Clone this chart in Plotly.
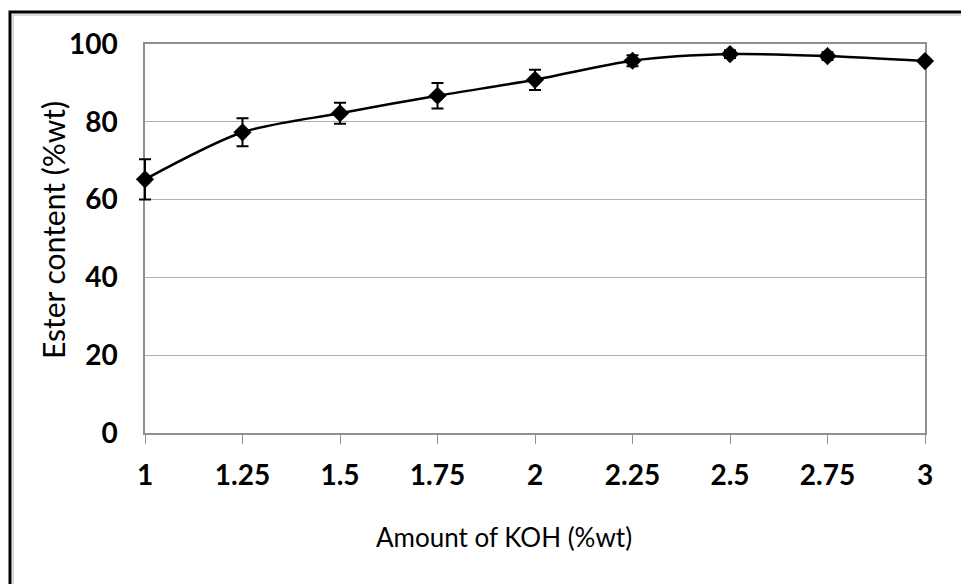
import plotly.graph_objects as go

# KOH loading (%wt) and resulting ester content (%wt) with standard deviations
koh_amount = [1, 1.25, 1.5, 1.75, 2, 2.25, 2.5, 2.75, 3]
ester_content = [65.2, 77.3, 82.2, 86.7, 90.8, 95.7, 97.4, 96.9, 95.6]
ester_sd = [5.2, 3.6, 2.7, 3.3, 2.6, 1.4, 1.0, 1.0, 0.3]

x_ticks = [1, 1.25, 1.5, 1.75, 2, 2.25, 2.5, 2.75, 3]
x_tick_text = ["1", "1.25", "1.5", "1.75", "2", "2.25", "2.5", "2.75", "3"]
y_ticks = [0, 20, 40, 60, 80, 100]
x_range = [1, 3]
y_range = [0, 100]

x_title = "Amount of KOH (%wt)"
y_title = "Ester content (%wt)"

W, H = 961, 584
# plot area in pixels: x from 145 to 925, y from 44 to 433
AX_L, AX_R, AX_T, AX_B = 145, 925, 44, 433
PAD = 14  # extra room on the data layer so end error-bar caps are not clipped

L, R = AX_L - PAD, W - AX_R - PAD
T, B = AX_T, H - AX_B
pw, ph = W - L - R, H - T - B
units_per_px = (x_range[1] - x_range[0]) / (AX_R - AX_L)


def px_to_paper(px, py):
    return (px - L) / pw, (H - B - py) / ph


fig = go.Figure()

# data layer on a slightly wider, invisible subplot so marks near the edges stay whole
fig.add_trace(go.Scatter(
    x=koh_amount,
    y=ester_content,
    xaxis="x2", yaxis="y2",
    mode="lines+markers",
    line=dict(color="black", width=2.5, shape="spline", smoothing=0.8),
    marker=dict(symbol="diamond", size=14, color="black"),
    error_y=dict(type="data", array=ester_sd, visible=True,
                 color="black", thickness=2, width=6),
    cliponaxis=False,
    showlegend=False,
))
# anchor trace for the visible axes (draws nothing)
fig.add_trace(go.Scatter(x=[None], y=[None], mode="markers", showlegend=False,
                         hoverinfo="skip"))

# outer frame around the chart (only its top and left edges fall inside the page)
x0, y0 = px_to_paper(10, 12)
x1, y1 = px_to_paper(990, 610)
fig.add_shape(type="rect", xref="paper", yref="paper",
              x0=x0, y0=y1, x1=x1, y1=y0,
              line=dict(color="black", width=3), layer="below")
gx0, gy0 = px_to_paper(13, 15)
fig.add_shape(type="rect", xref="paper", yref="paper",
              x0=gx0, y0=y1, x1=x1, y1=gy0,
              line=dict(color="#b8b8b8", width=1), layer="below")

# axis titles
tx, ty = px_to_paper(504, 537)
fig.add_annotation(text=x_title, xref="paper", yref="paper", x=tx, y=ty,
                   xanchor="center", yanchor="middle", showarrow=False,
                   font=dict(size=26, family="Lato, sans-serif", color="black"))
vx, vy = px_to_paper(53, 230)
fig.add_annotation(text=y_title, xref="paper", yref="paper", x=vx, y=vy,
                   xanchor="center", yanchor="middle", showarrow=False,
                   textangle=-90,
                   font=dict(size=30, family="Lato, sans-serif", color="black"))

tick_font = dict(size=28, family="Lato, sans-serif", weight="bold", color="black")

fig.update_layout(
    width=W, height=H,
    margin=dict(l=L, r=R, t=T, b=B, pad=0),
    paper_bgcolor="white",
    plot_bgcolor="rgba(0,0,0,0)",
    font=dict(family="Lato, sans-serif", color="black"),
    xaxis=dict(
        domain=[PAD / pw, 1 - PAD / pw],
        range=x_range,
        tickvals=x_ticks,
        ticktext=x_tick_text,
        tickfont=tick_font,
        ticks="outside", ticklen=9, tickcolor="#909090", tickwidth=1,
        ticklabelstandoff=8,
        showline=True, linecolor="#909090", linewidth=1.5,
        mirror=True,
        showgrid=False, zeroline=False,
    ),
    yaxis=dict(
        range=y_range,
        tickvals=y_ticks,
        tickfont=tick_font,
        ticks="", ticklabelstandoff=20,
        showline=True, linecolor="#909090", linewidth=1.5,
        mirror=True,
        showgrid=True, gridcolor="#b0b0b0", gridwidth=1.2,
        zeroline=False,
    ),
    xaxis2=dict(
        domain=[0, 1],
        range=[x_range[0] - PAD * units_per_px, x_range[1] + PAD * units_per_px],
        anchor="y2", visible=False, showgrid=False, zeroline=False,
    ),
    yaxis2=dict(
        domain=[0, 1],
        range=y_range,
        anchor="x2", visible=False, showgrid=False, zeroline=False,
    ),
)

fig.write_html("out.html")
